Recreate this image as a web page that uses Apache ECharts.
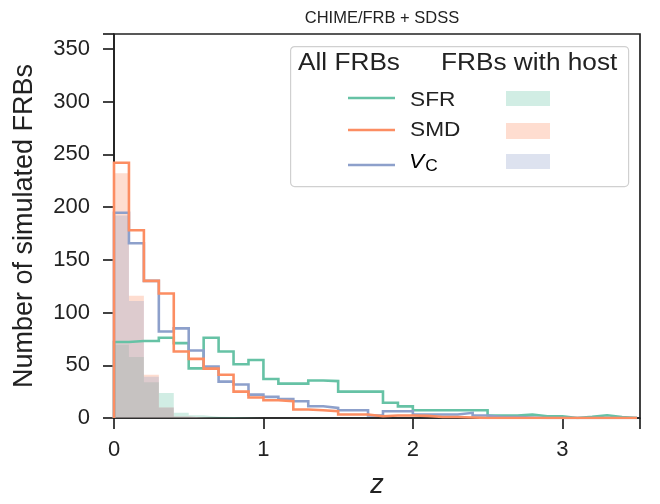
<!DOCTYPE html>
<html>
<head>
<meta charset="utf-8">
<script src="https://cdn.jsdelivr.net/npm/echarts@6/dist/echarts.min.js"></script>
<style>html,body{margin:0;padding:0;background:#fff;}#c{width:660px;height:504px;}</style>
</head>
<body>
<div id="c"></div>
<script>
// Bin edges: 0 to 3.5 in steps of 0.1
const binWidth = 0.1;
// All FRBs (step outlines)
const sfrAll = [72, 73, 73, 76, 71, 47, 76, 63, 51, 55, 37, 32.6, 32.6, 35.6, 35, 25, 25, 25, 14.4, 11, 7.4, 7.4, 7.4, 7.4, 7.4, 2.4, 2.4, 3.3, 1.7, 1.7, 0, 1.1, 2.6, 1, 0];
const smdAll = [242, 178, 130, 118, 63, 56, 46.8, 41, 25, 19.5, 16.8, 16, 8, 7.4, 6.4, 3.3, 3.3, 1.6, 2.4, 2.4, 2, 1, 1, 0.5, 0, 0, 0, 0, 0, 0, 0, 0, 0, 0, 0];
const vcAll = [194.5, 165.6, 130, 82, 85, 64, 48.7, 34.5, 31.7, 22.2, 20, 18, 15.9, 11.2, 9.6, 7.4, 7.4, 2.4, 6.4, 6.4, 3.3, 3.3, 3.3, 4.9, 2.4, 1, 1, 0.5, 0, 0, 0, 0, 0, 0, 0];
// FRBs with host (filled)
const sfrHost = [69.5, 57.8, 34, 23.8, 5, 2.5, 1.2, 1, 0.5, 0, 0, 0, 0, 0, 0, 0, 0, 0, 0, 0, 0, 0, 0, 0, 0, 0, 0, 0, 0, 0, 0, 0, 0, 0, 0];
const smdHost = [232, 116, 41, 10, 1.5, 0.5, 0, 0, 0, 0, 0, 0, 0, 0, 0, 0, 0, 0, 0, 0, 0, 0, 0, 0, 0, 0, 0, 0, 0, 0, 0, 0, 0, 0, 0];
const vcHost = [192, 111, 39, 10, 1.5, 0.5, 0, 0, 0, 0, 0, 0, 0, 0, 0, 0, 0, 0, 0, 0, 0, 0, 0, 0, 0, 0, 0, 0, 0, 0, 0, 0, 0, 0, 0];
const yTicks = [0, 50, 100, 150, 200, 250, 300, 350];
const xTicks = [0, 1, 2, 3];

const C_SFR = '#66c2a5', C_SMD = '#fc8d62', C_VC = '#8da0cb';

function stepData(vals) {
  const d = [[0, 0]];
  for (let i = 0; i < vals.length; i++) d.push([+(i * binWidth).toFixed(3), vals[i]]);
  d.push([+(vals.length * binWidth).toFixed(3), 0]);
  return d;
}
function lineSeries(vals, color, z) {
  return { type: 'line', step: 'end', data: stepData(vals), showSymbol: false, symbol: 'none',
    lineStyle: { color: color, width: 2.6, join: 'miter' }, z: z, animation: false, silent: true };
}
function fillSeries(vals, color, z) {
  return { type: 'line', step: 'end', data: stepData(vals), showSymbol: false, symbol: 'none',
    lineStyle: { width: 0 }, areaStyle: { color: color, opacity: 0.3 }, z: z, animation: false, silent: true };
}

const font = 'Liberation Sans, Arial, sans-serif';
const chart = echarts.init(document.getElementById('c'), null, { renderer: 'canvas' });
chart.setOption({
  animation: false,
  title: { text: 'CHIME/FRB + SDSS', left: 377, top: 5, textAlign: 'center',
    textStyle: { fontFamily: font, fontSize: 16.5, fontWeight: 'normal', color: '#222' } },
  grid: { left: 114, right: 20, top: 34, bottom: 85.5, show: true, borderColor: '#222', borderWidth: 1.7, backgroundColor: 'transparent' },
  xAxis: { type: 'value', min: 0, max: 3.52, interval: 1,
    name: 'z', nameLocation: 'middle', nameGap: 54,
    nameTextStyle: { fontFamily: font, fontSize: 27, fontStyle: 'italic', color: '#222' },
    axisLine: { show: true, lineStyle: { color: '#222', width: 1.7 } },
    axisTick: { show: true, length: 11, lineStyle: { color: '#222', width: 1.7 } },
    axisLabel: { fontFamily: font, fontSize: 22, color: '#222', margin: 21,
      formatter: v => xTicks.includes(v) ? String(v) : '' },
    splitLine: { show: false } },
  yAxis: { type: 'value', min: 0, max: 364, interval: 50,
    name: 'Number of simulated FRBs', nameLocation: 'middle', nameGap: 76,
    nameTextStyle: { fontFamily: font, fontSize: 27, color: '#222' },
    axisLine: { show: true, lineStyle: { color: '#222', width: 1.7 } },
    axisTick: { show: true, length: 11, lineStyle: { color: '#222', width: 1.7 } },
    axisLabel: { fontFamily: font, fontSize: 22, color: '#222', margin: 24,
      formatter: v => yTicks.includes(v) ? String(v) : '' },
    splitLine: { show: false } },
  series: [
    fillSeries(sfrHost, C_SFR, 1),
    fillSeries(smdHost, C_SMD, 1),
    fillSeries(vcHost, C_VC, 1),
    lineSeries(sfrAll, C_SFR, 3),
    lineSeries(vcAll, C_VC, 4),
    lineSeries(smdAll, C_SMD, 5)
  ],
  graphic: [
    { type: 'rect', left: 290, top: 46, shape: { width: 338, height: 140, r: 4 },
      style: { fill: 'rgba(255,255,255,0.85)', stroke: '#d0d0d0', lineWidth: 1.2 }, z: 100 },
    { type: 'text', x: 298, y: 52, scaleX: 1.14, style: { text: 'All FRBs', font: '23px ' + font, fill: '#222' }, z: 101 },
    { type: 'text', x: 441, y: 52, scaleX: 1.14, style: { text: 'FRBs with host', font: '23px ' + font, fill: '#222' }, z: 101 },
    { type: 'line', shape: { x1: 348, y1: 98, x2: 395, y2: 98 }, style: { stroke: C_SFR, lineWidth: 2.6 }, z: 101 },
    { type: 'line', shape: { x1: 348, y1: 130, x2: 395, y2: 130 }, style: { stroke: C_SMD, lineWidth: 2.6 }, z: 101 },
    { type: 'line', shape: { x1: 348, y1: 165, x2: 395, y2: 165 }, style: { stroke: C_VC, lineWidth: 2.6 }, z: 101 },
    { type: 'text', x: 410, y: 89.5, scaleX: 1.08, style: { text: 'SFR', font: '21px ' + font, fill: '#222' }, z: 101 },
    { type: 'text', x: 410, y: 120, scaleX: 1.08, style: { text: 'SMD', font: '21px ' + font, fill: '#222' }, z: 101 },
    { type: 'text', x: 409, y: 150, scaleX: 1.08, style: {
        rich: { i: { fontFamily: font, fontSize: 21, fontStyle: 'italic', color: '#222' },
                s: { fontFamily: font, fontSize: 16, color: '#222', padding: [9, 0, 0, 1] } },
        text: '{i|V}{s|C}' }, z: 101 },
    { type: 'rect', left: 506, top: 91, shape: { width: 44, height: 15 }, style: { fill: C_SFR, opacity: 0.3 }, z: 101 },
    { type: 'rect', left: 506, top: 123, shape: { width: 44, height: 16 }, style: { fill: C_SMD, opacity: 0.3 }, z: 101 },
    { type: 'rect', left: 506, top: 154, shape: { width: 44, height: 15 }, style: { fill: C_VC, opacity: 0.3 }, z: 101 }
  ]
});
</script>
</body>
</html>
